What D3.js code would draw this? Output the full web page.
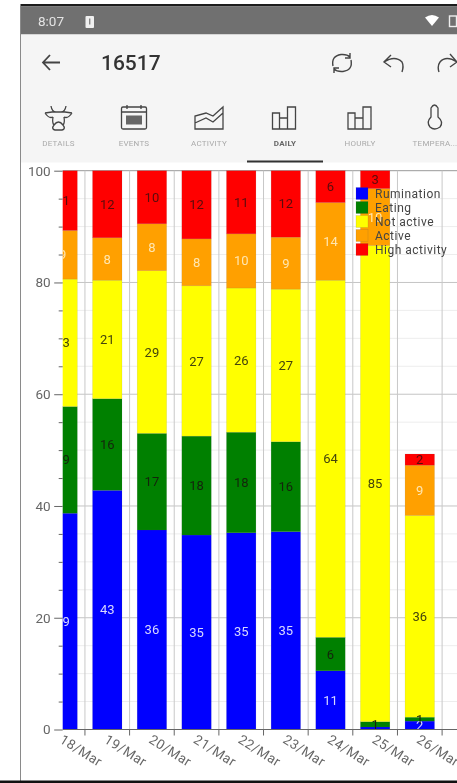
<!DOCTYPE html>
<html>
<head>
<meta charset="utf-8">
<script src="https://cdn.jsdelivr.net/npm/d3@7"></script>
<style>
  html, body { margin: 0; padding: 0; background: #fff; overflow: hidden; }
  svg { display: block; filter: blur(0.7px); font-family: Roboto, sans-serif; }
</style>
</head>
<body>
<div id="chart"></div>
<script>
const dates = ["18/Mar", "19/Mar", "20/Mar", "21/Mar", "22/Mar", "23/Mar", "24/Mar", "25/Mar", "26/Mar"];
const rumination = [38.7, 42.8, 35.7, 34.8, 35.2, 35.4, 10.5, 0.45, 1.5];
const eating = [19.1, 16.4, 17.3, 17.7, 18, 16.1, 6, 0.95, 0.7];
const notActive = [22.8, 21.2, 29.1, 26.9, 25.8, 27.3, 63.9, 85.2, 36.1];
const active = [8.7, 7.6, 8.4, 8.4, 9.7, 9.3, 13.9, 10.2, 9];
const highActivity = [10.7, 12, 9.5, 12.2, 11.3, 11.9, 5.7, 3.2, 2];

const seriesNames = ["Rumination", "Eating", "Not active", "Active", "High activity"];
const seriesValues = [rumination, eating, notActive, active, highActivity];
const seriesColors = ["#0000ff", "#008000", "#ffff00", "#ffa000", "#ff0000"];
const labelColors = ["#d8d8ff", "#14240c", "#44440c", "#ffe6b0", "#5a0c0c"];
const yTicks = d3.range(0, 101, 5);

const width = 457, height = 783;
const margin = { top: 170.7, bottom: 53.5, left: 62.7 };
const plotBottom = height - margin.bottom;

const svg = d3.select("#chart").append("svg")
  .attr("width", width)
  .attr("height", height);

const x = d3.scaleBand(dates, [40.3, 442.1]).paddingInner(0.34).paddingOuter(0.17);
const y = d3.scaleLinear([0, 100], [plotBottom, margin.top]);

// --- phone frame
svg.append("rect").attr("x", 20).attr("y", 4).attr("width", width).attr("height", height).attr("fill", "#fff");
svg.append("rect").attr("x", 20).attr("y", 4).attr("width", width).attr("height", 2.5).attr("fill", "#1c1c1c");
svg.append("rect").attr("x", 20).attr("y", 6.5).attr("width", width).attr("height", 28).attr("fill", "#707070");
svg.append("rect").attr("x", 20).attr("y", 34.5).attr("width", width).attr("height", 128).attr("fill", "#f5f5f5");
svg.append("rect").attr("x", 20).attr("y", 4).attr("width", 1).attr("height", height).attr("fill", "#8a8a8a");
svg.append("rect").attr("x", 0).attr("y", 780.5).attr("width", width).attr("height", 3).attr("fill", "#111");

// status bar
svg.append("text").attr("x", 38).attr("y", 26).attr("font-size", 13.5).attr("fill", "#e4e4e4").text("8:07");
svg.append("rect").attr("x", 85.5).attr("y", 16).attr("width", 8.5).attr("height", 12).attr("rx", 1).attr("fill", "#f0f0f0");
svg.append("rect").attr("x", 89).attr("y", 18.5).attr("width", 1.4).attr("height", 6).attr("fill", "#888");
svg.append("path").attr("d", "M425 17.5Q432 12.5 439 17.5L432 26Z").attr("fill", "#fff");
svg.append("rect").attr("x", 449.5).attr("y", 16).attr("width", 7).attr("height", 10.5).attr("fill", "none").attr("stroke", "#eee").attr("stroke-width", 1.4);

// app bar
const chrome = svg.append("g").attr("fill", "none").attr("stroke", "#444").attr("stroke-width", 1.4);
chrome.append("path").attr("d", "M43 62.5H60M50 55L43 62.5L50 70").attr("stroke-width", 1.8);
chrome.append("path").attr("d", "M333 66Q331 56 341 54.5Q347 54 350 57M350 53V58H345M351 60Q353 70 343 71.5Q337 72 334 69M334 73V68H339");
chrome.append("path").attr("d", "M384 62Q395 55 402 62Q404 66 402 72M391 55L384 62L391 67");
chrome.append("path").attr("d", "M457 62Q446 55 440 62Q437 66 439 72M450 54L457 62L450 67");
svg.append("text").attr("x", 101).attr("y", 70).attr("font-size", 21).attr("font-weight", 500).attr("fill", "#333").text("16517");

// tabs
const tabs = [["DETAILS", 58.5], ["EVENTS", 134], ["ACTIVITY", 209], ["DAILY", 285], ["HOURLY", 360], ["TEMPERA...", 435]];
svg.append("g").selectAll("text").data(tabs).join("text")
  .attr("x", (d) => d[1])
  .attr("y", 146)
  .attr("text-anchor", "middle")
  .attr("font-size", 8)
  .attr("letter-spacing", 0.25)
  .attr("font-weight", (d) => (d[0] == "DAILY" ? 700 : 400))
  .attr("fill", (d) => (d[0] == "DAILY" ? "#666" : "#aaa"))
  .text((d) => d[0]);
svg.append("rect").attr("x", 247).attr("y", 160.5).attr("width", 76).attr("height", 2).attr("fill", "#333");

const icons = svg.append("g").attr("fill", "none").attr("stroke", "#444").attr("stroke-width", 1.3);
// cow
icons.append("path").attr("d", "M45 113L52 112H65L72 113M45 113Q49 119 53 117M72 113Q68 119 64 117M51 106Q52 112 56 112M66 106Q65 112 61 112M53 117Q52 123 54 125Q51 129 55 130H62Q66 129 63 125Q65 123 64 117M54 125Q58.5 119 63 125");
// calendar
icons.append("rect").attr("x", 121.5).attr("y", 107).attr("width", 25).attr("height", 22).attr("rx", 1.5);
icons.append("path").attr("d", "M121.5 112H146.5M127 105V109M141 105V109");
icons.append("rect").attr("x", 126).attr("y", 115.5).attr("width", 16).attr("height", 9).attr("fill", "#666").attr("stroke", "none");
// activity
icons.append("path").attr("d", "M195 129V116L206 113L213 116L223 107V129ZM195 123L206 118L213 122L223 113");
// daily and hourly bars
[272.5, 348].forEach((x0) => {
  icons.append("path").attr("d", `M${x0} 129V113H${x0 + 7}V129ZM${x0 + 7} 129V118H${x0 + 15}V129ZM${x0 + 15} 129V107H${x0 + 23}V129Z`);
});
// thermometer
icons.append("path").attr("d", "M431 117V108Q434.5 102 438 108V117Q444 122 440 127Q434.5 131 430 127Q426 122 431 117Z");

// --- chart
svg.append("rect").attr("x", 21).attr("y", 163).attr("width", width).attr("height", 617).attr("fill", "#fff");

// grid, minor first so the 20s sit on top
svg.append("g").selectAll("line").data(yTicks.filter((d) => d % 20 != 0)).join("line")
  .attr("x1", margin.left).attr("x2", width)
  .attr("y1", (d) => y(d)).attr("y2", (d) => y(d))
  .attr("stroke", "#ededed").attr("stroke-width", 1);
svg.append("g").selectAll("line").data(yTicks.filter((d) => d % 20 == 0 && d > 0)).join("line")
  .attr("x1", margin.left).attr("x2", width)
  .attr("y1", (d) => y(d)).attr("y2", (d) => y(d))
  .attr("stroke", (d) => (d == 100 ? "#999" : "#c4c4c4")).attr("stroke-width", 1);
svg.append("g").selectAll("line").data(dates).join("line")
  .attr("x1", (d) => x(d) + x.step() / 2 + x.bandwidth() / 2)
  .attr("x2", (d) => x(d) + x.step() / 2 + x.bandwidth() / 2)
  .attr("y1", margin.top).attr("y2", plotBottom)
  .attr("stroke", "#c8c8c8").attr("stroke-width", 1);

svg.append("clipPath").attr("id", "plot-clip")
  .append("rect")
  .attr("x", margin.left).attr("y", margin.top - 2)
  .attr("width", width - margin.left).attr("height", plotBottom - margin.top + 2);

const rows = dates.map((d, i) => {
  const row = { date: d };
  seriesNames.forEach((name, k) => (row[name] = seriesValues[k][i]));
  return row;
});
const stacked = d3.stack().keys(seriesNames)(rows);

const plot = svg.append("g").attr("clip-path", "url(#plot-clip)");

plot.selectAll("g.series").data(stacked).join("g")
  .attr("class", "series")
  .attr("fill", (d, i) => seriesColors[i])
  .selectAll("rect").data((d) => d).join("rect")
  .attr("x", (d) => x(d.data.date))
  .attr("y", (d) => y(d[1]))
  .attr("width", x.bandwidth())
  .attr("height", (d) => y(d[0]) - y(d[1]))
  .attr("stroke", "rgba(90,90,90,0.2)")
  .attr("stroke-width", 0.5);

plot.selectAll("g.labels").data(stacked).join("g")
  .attr("class", "labels")
  .attr("fill", (d, i) => labelColors[i])
  .selectAll("text").data((d) => d.filter((p) => Math.round(p[1] - p[0]) > 0)).join("text")
  .attr("x", (d) => x(d.data.date) + x.bandwidth() / 2)
  .attr("y", (d) => (y(d[0]) + y(d[1])) / 2)
  .attr("dy", "0.35em")
  .attr("text-anchor", "middle")
  .attr("font-size", 13)
  .text((d) => Math.round(d[1] - d[0]));

// axes
const yAxis = svg.append("g")
  .attr("transform", `translate(${margin.left},0)`)
  .call(d3.axisLeft(y).tickValues(yTicks).tickSize(4).tickFormat((d) => (d % 20 == 0 ? d : "")));
yAxis.select(".domain").remove();
yAxis.selectAll("line").attr("stroke", "#666").attr("x2", (d) => (d % 20 == 0 ? -8.5 : -4));
yAxis.selectAll("text")
  .attr("x", -12)
  .attr("font-size", 13.5)
  .attr("font-family", "Roboto, sans-serif")
  .attr("fill", "#666");

const xAxis = svg.append("g")
  .attr("transform", `translate(${x.step() / 2},${plotBottom})`)
  .call(d3.axisBottom(x).tickSize(6).tickPadding(0));
xAxis.select(".domain").remove();
xAxis.selectAll("line").attr("stroke", "#666");
xAxis.selectAll("text")
  .attr("y", 0)
  .attr("dy", 0)
  .attr("transform", "translate(-6.4,25) rotate(32)")
  .attr("font-size", 13.5)
  .attr("font-family", "Roboto, sans-serif")
  .attr("letter-spacing", 0.4)
  .attr("text-anchor", "middle")
  .attr("fill", "#666");
svg.append("line")
  .attr("x1", margin.left).attr("x2", width)
  .attr("y1", plotBottom).attr("y2", plotBottom)
  .attr("stroke", "#666").attr("stroke-width", 1);

// legend
const legend = svg.append("g").selectAll("g").data(seriesNames).join("g")
  .attr("transform", (d, i) => `translate(356,${187.5 + i * 14})`);
legend.append("rect")
  .attr("width", 12).attr("height", 12)
  .attr("fill", (d, i) => seriesColors[i])
  .attr("stroke", "rgba(90,90,90,0.3)").attr("stroke-width", 0.5);
legend.append("text")
  .attr("x", 19).attr("y", 6).attr("dy", "0.35em")
  .attr("font-size", 12)
  .attr("letter-spacing", 0.5)
  .attr("fill", "#444")
  .text((d) => d);
</script>
</body>
</html>
